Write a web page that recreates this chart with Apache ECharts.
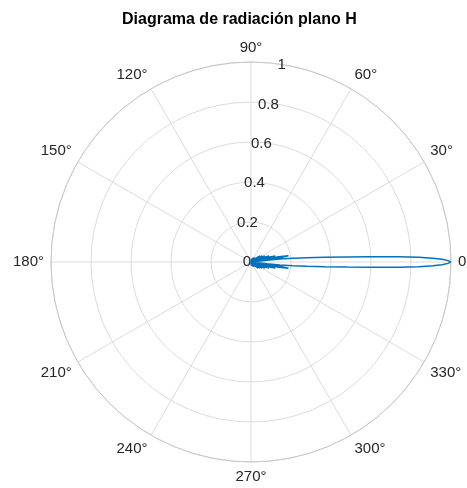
<!DOCTYPE html>
<html>
<head>
<meta charset="utf-8">
<script src="https://cdn.jsdelivr.net/npm/echarts@6/dist/echarts.min.js"></script>
<style>html,body{margin:0;padding:0;background:#fff;}#c{width:467px;height:488px;}</style>
</head>
<body>
<div id="c"></div>
<script>
// Pattern samples: angle (degrees) and normalized amplitude
const angleDeg = [
  -180, -90.0, -85.5, -81.0, -77.0, -73.0, -69.5, -66.0, -63.2, -60.5, -58.2, -55.8, -53.6,
  -51.5, -49.6, -47.6, -45.7, -44.0, -42.3, -40.6, -39.0, -37.5, -36.0, -34.4, -32.9,
  -31.5, -30.2, -28.8, -27.5, -26.2, -24.9, -23.6, -22.4, -21.2, -20.0, -18.8, -17.6,
  -16.5, -15.4, -14.2, -13.0, -12.0, -10.9, -9.6, -8.4,
  -7.4, -6.6, -5.8, -5.0, -4.3, -3.6, -3.0, -2.5, -2.0, -1.6, -1.2, -0.8, -0.4,
  0,
  0.4, 0.8, 1.2, 1.6, 2.0, 2.5, 3.0, 3.6, 4.3, 5.0, 5.8, 6.6, 7.4,
  8.4, 9.6, 10.9, 12.0, 13.0, 14.2, 15.4, 16.5, 17.6, 18.8, 20.0, 21.2,
  22.4, 23.6, 24.9, 26.2, 27.5, 28.8, 30.2, 31.5, 32.9, 34.4, 36.0, 37.5,
  39.0, 40.6, 42.3, 44.0, 45.7, 47.6, 49.6, 51.5, 53.6, 55.8, 58.2, 60.5,
  63.2, 66.0, 69.5, 73.0, 77.0, 81.0, 85.5, 90.0, 180
];
const amplitude = [
  0, 0, 0.018, 0.025, 0.018, 0, 0.024, 0.033, 0.024, 0, 0.027, 0.037, 0.027,
  0, 0.030, 0.042, 0.030, 0, 0.034, 0.047, 0.034, 0, 0.039, 0.054, 0.039,
  0, 0.045, 0.063, 0.045, 0, 0.054, 0.075, 0.054, 0, 0.068, 0.095, 0.068,
  0, 0.090, 0.125, 0.090, 0, 0.140, 0.190, 0.140,
  0, 0.080, 0.145, 0.210, 0.280, 0.370, 0.480, 0.600, 0.740, 0.840, 0.910, 0.955, 0.985,
  1.000,
  0.985, 0.955, 0.910, 0.840, 0.740, 0.600, 0.480, 0.370, 0.280, 0.210, 0.145, 0.080, 0,
  0.140, 0.190, 0.140, 0, 0.090, 0.125, 0.090, 0, 0.068, 0.095, 0.068, 0,
  0.054, 0.075, 0.054, 0, 0.045, 0.063, 0.045, 0, 0.039, 0.054, 0.039, 0,
  0.034, 0.047, 0.034, 0, 0.030, 0.042, 0.030, 0, 0.027, 0.037, 0.027, 0,
  0.024, 0.033, 0.024, 0, 0.018, 0.025, 0.018, 0, 0
];
const thetaTicks = [0, 30, 60, 90, 120, 150, 180, 210, 240, 270, 300, 330];
const thetaLabels = ['0', '30°', '60°', '90°', '120°', '150°', '180°', '210°', '240°', '270°', '300°', '330°'];
const rTicks = [0, 0.2, 0.4, 0.6, 0.8, 1];
const rLabels = ['0', '0.2', '0.4', '0.6', '0.8', '1'];
const titleText = 'Diagrama de radiación plano H';

const chart = echarts.init(document.getElementById('c'), null, {renderer: 'canvas'});
const gridColor = '#dcdcdc';
const textColor = '#262626';
const font = 'Liberation Sans, Arial, Helvetica, sans-serif';

function thetaLabel(v) {
  if (v === 180) return '';
  let d = v < 0 ? v + 360 : v;
  const i = thetaTicks.indexOf(d);
  return i >= 0 ? thetaLabels[i] : '';
}
function rLabel(v) {
  for (let i = 0; i < rTicks.length; i++) if (Math.abs(rTicks[i] - v) < 1e-6) return rLabels[i];
  return '';
}

const data = angleDeg.map((a, i) => [amplitude[i], a]);

chart.setOption({
  animation: false,
  backgroundColor: '#ffffff',
  title: {
    text: titleText,
    left: 117, top: 7,
    textStyle: {fontFamily: font, fontSize: 16, fontWeight: 'bold', color: '#000'}
  },
  polar: [
    {center: [251, 262], radius: 200},
    {center: [251, 262], radius: 200}
  ],
  angleAxis: [
    {
      polarIndex: 0, type: 'value', min: 0, max: 360, startAngle: 80, clockwise: false,
      show: false
    },
    {
      polarIndex: 1, type: 'value', min: -180, max: 180, interval: 30, startAngle: 180, clockwise: false,
      axisLine: {show: true, lineStyle: {color: '#c8c8c8', width: 1}},
      axisTick: {show: false},
      axisLabel: {show: true, margin: 7, color: textColor, fontFamily: font, fontSize: 15, formatter: thetaLabel},
      splitLine: {show: true, lineStyle: {color: gridColor, width: 1}}
    }
  ],
  radiusAxis: [
    {
      polarIndex: 0, type: 'value', min: 0, max: 1, interval: 0.2,
      axisLine: {show: false}, axisTick: {show: false}, splitLine: {show: false},
      axisLabel: {show: true, color: textColor, fontFamily: font, fontSize: 15, formatter: rLabel, margin: 0}
    },
    {
      polarIndex: 1, type: 'value', min: 0, max: 1, interval: 0.2,
      axisLine: {show: false}, axisTick: {show: false},
      axisLabel: {show: false},
      splitLine: {show: true, lineStyle: {color: gridColor, width: 1}}
    }
  ],
  series: [{
    type: 'line', coordinateSystem: 'polar', polarIndex: 1,
    data: data, symbol: 'none', smooth: false,
    lineStyle: {color: '#0072BD', width: 1.5}
  }]
});
</script>
</body>
</html>
